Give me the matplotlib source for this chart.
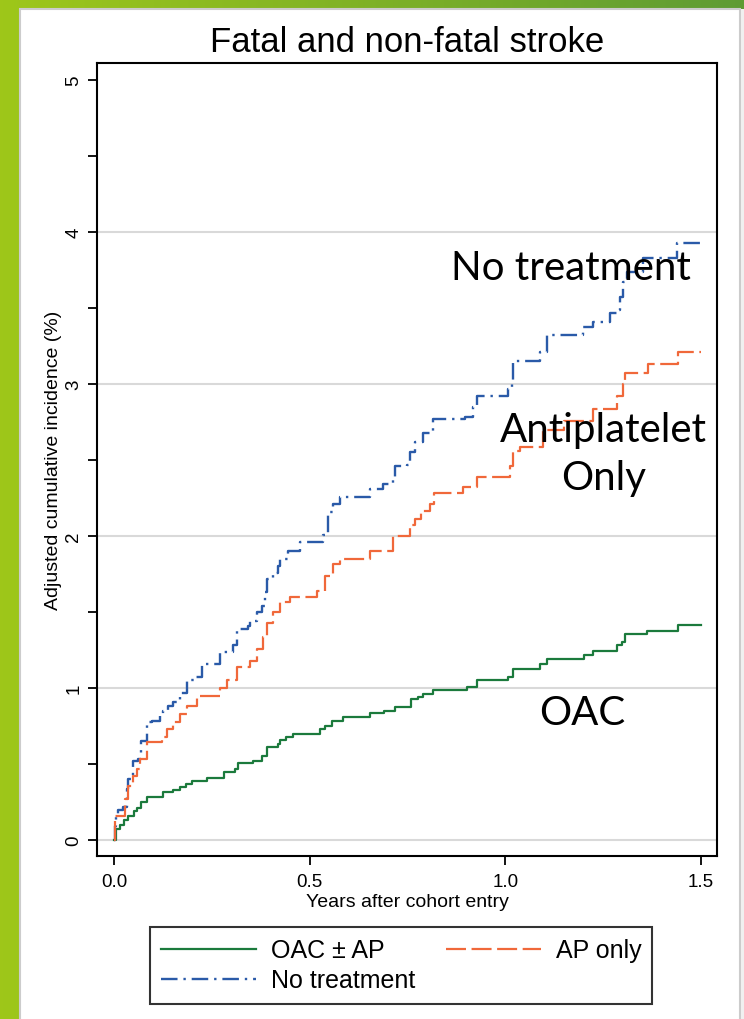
import numpy as np
import matplotlib
matplotlib.use("Agg")
import matplotlib.pyplot as plt
from matplotlib.patches import Rectangle

plt.rcParams['font.family'] = ['Liberation Sans', 'DejaVu Sans']

# Step curves (years, cumulative incidence %)
oac_t = [0, 0.006, 0.015, 0.025, 0.036, 0.05, 0.058, 0.07, 0.084, 0.126,
         0.15, 0.169, 0.185, 0.2, 0.237, 0.28, 0.31, 0.317, 0.355, 0.377,
         0.39, 0.42, 0.424, 0.44, 0.458, 0.527, 0.54, 0.557, 0.585, 0.654,
         0.69, 0.718, 0.76, 0.777, 0.79, 0.815, 0.902, 0.928, 1.007, 1.02,
         1.089, 1.106, 1.2, 1.224, 1.285, 1.298, 1.306, 1.362, 1.441, 1.5]
oac_v = [0, 0.07, 0.1, 0.13, 0.16, 0.19, 0.21, 0.25, 0.28, 0.315,
         0.33, 0.35, 0.37, 0.39, 0.41, 0.45, 0.47, 0.51, 0.52, 0.55,
         0.61, 0.63, 0.66, 0.68, 0.70, 0.73, 0.75, 0.78, 0.81, 0.835,
         0.85, 0.875, 0.93, 0.94, 0.96, 0.99, 1.01, 1.05, 1.07, 1.125,
         1.16, 1.19, 1.22, 1.245, 1.28, 1.30, 1.355, 1.375, 1.415, 1.415]

ap_t = [0, 0.003, 0.028, 0.036, 0.049, 0.058, 0.066, 0.084, 0.122, 0.135,
        0.151, 0.169, 0.186, 0.212, 0.271, 0.289, 0.314, 0.348, 0.365, 0.381,
        0.39, 0.407, 0.424, 0.45, 0.518, 0.539, 0.56, 0.578, 0.654, 0.713,
        0.756, 0.769, 0.785, 0.808, 0.818, 0.892, 0.927, 1.012, 1.02, 1.037,
        1.097, 1.15, 1.224, 1.285, 1.3, 1.306, 1.365, 1.441, 1.5]
ap_v = [0, 0.16, 0.27, 0.355, 0.42, 0.47, 0.53, 0.645, 0.68, 0.73,
        0.775, 0.83, 0.88, 0.95, 1.0, 1.05, 1.14, 1.18, 1.26, 1.335,
        1.43, 1.50, 1.565, 1.60, 1.64, 1.74, 1.815, 1.85, 1.90, 2.0,
        2.07, 2.11, 2.165, 2.21, 2.28, 2.32, 2.39, 2.46, 2.56, 2.585,
        2.70, 2.76, 2.835, 2.92, 3.0, 3.07, 3.13, 3.21, 3.21]

none_t = [0, 0.003, 0.006, 0.01, 0.023, 0.032, 0.036, 0.049, 0.061, 0.07,
          0.084, 0.096, 0.118, 0.126, 0.138, 0.151, 0.169, 0.186, 0.207, 0.225,
          0.271, 0.304, 0.314, 0.342, 0.348, 0.365, 0.377, 0.386, 0.391, 0.407,
          0.42, 0.424, 0.445, 0.475, 0.535, 0.548, 0.56, 0.578, 0.654, 0.688,
          0.713, 0.718, 0.748, 0.757, 0.769, 0.79, 0.815, 0.897, 0.918, 0.927,
          1.007, 1.017, 1.02, 1.089, 1.106, 1.199, 1.224, 1.268, 1.285, 1.293,
          1.3, 1.31, 1.352, 1.439, 1.5]
none_v = [0, 0.09, 0.16, 0.2, 0.22, 0.335, 0.40, 0.52, 0.53, 0.65,
          0.775, 0.78, 0.815, 0.85, 0.88, 0.905, 0.97, 1.05, 1.07, 1.16,
          1.24, 1.28, 1.39, 1.41, 1.44, 1.50, 1.54, 1.63, 1.72, 1.76,
          1.80, 1.85, 1.90, 1.96, 2.01, 2.16, 2.21, 2.26, 2.31, 2.34,
          2.39, 2.46, 2.47, 2.55, 2.62, 2.68, 2.77, 2.78, 2.85, 2.92,
          2.97, 3.0, 3.15, 3.21, 3.32, 3.375, 3.41, 3.47, 3.49, 3.57,
          3.67, 3.74, 3.83, 3.93, 3.93]

x_ticks = [0.0, 0.5, 1.0, 1.5]
x_labels = ["0.0", "0.5", "1.0", "1.5"]
y_ticks = [0, 1, 2, 3, 4, 5]
y_grid = [0, 1, 2, 3, 4]

green = "#1b7a3c"
orange = "#f0683a"
blue = "#2a5aa8"

fig = plt.figure(figsize=(7.44, 10.2), dpi=100)

# slide background: green strips and white panel
bg = fig.add_axes([0, 0, 1, 1])
c0 = np.array([0.62, 0.78, 0.10])
c1 = np.array([0.37, 0.61, 0.20])
grad = np.linspace(0, 1, 256)[None, :, None]
bg.imshow(c0 + (c1 - c0) * grad, aspect="auto", extent=[0, 1, 0, 1])
bg.set_xlim(0, 1)
bg.set_ylim(0, 1)
bg.axis("off")
bg.add_patch(Rectangle((20 / 744, -0.01), 720 / 744, 1 - 10 / 1020 + 0.01,
                       facecolor="white", edgecolor="#cccccc", lw=1.5))
bg.add_patch(Rectangle((741 / 744, 0), 3 / 744, 1 - 10 / 1020,
                       facecolor="#f0f0f0", edgecolor="none"))

ax = fig.add_axes([97 / 744, 1 - 857 / 1020, 620 / 744, 793 / 1020])

ax.step(oac_t, oac_v, where="post", color=green, lw=1.6, label="OAC \u00b1 AP")
ax.step(none_t, none_v, where="post", color=blue, lw=1.7,
        dashes=(7, 2.5, 1, 2.5), label="No treatment")
ax.step(ap_t, ap_v, where="post", color=orange, lw=1.6,
        dashes=(9, 2.5), label="AP only")

for g in y_grid:
    ax.axhline(g, color="#d9d9d9", lw=1.5, zorder=0)

ax.set_xlim(-0.0434, 1.541)
ax.set_ylim(-0.105, 5.112)
ax.set_xticks(x_ticks)
ax.set_xticklabels(x_labels)
ax.set_yticks(y_ticks)
ax.set_yticks(np.arange(0.5, 5, 1.0), minor=True)
ax.tick_params(axis="both", which="both", length=6.5, width=1.3, labelsize=13.5)
ax.tick_params(axis="x", pad=6)
ax.tick_params(axis="y", labelrotation=90, pad=4)
for lab in ax.get_yticklabels():
    lab.set_va("center")
for sp in ax.spines.values():
    sp.set_linewidth(1.5)

ax.set_title("Fatal and non-fatal stroke", fontsize=25, pad=9)
ax.set_xlabel("Years after cohort entry", fontsize=14, labelpad=2)
ax.set_ylabel("Adjusted cumulative incidence (%)", fontsize=14, va="center")
ax.yaxis.set_label_coords(-0.07, 0.5)

# annotations on the slide
ann = dict(fontsize=29, family=["Lato", "DejaVu Sans"], ha="center", va="baseline")
ax.text(1.168, 3.69, "No treatment", **ann)
ax.text(1.25, 2.625, "Antiplatelet", **ann)
ax.text(1.25, 2.31, "Only", **ann)
ax.text(1.196, 0.763, "OAC", **ann)

leg = ax.legend(loc="upper left", bbox_to_anchor=(150 / 744, 1 - 928 / 1020),
                bbox_transform=fig.transFigure, ncol=2, fontsize=18,
                frameon=True, fancybox=False, edgecolor="black",
                handlelength=3.8, handletextpad=0.6, columnspacing=1.2,
                labelspacing=0.25, borderpad=0.45, borderaxespad=0)
leg.get_frame().set_linewidth(1.5)

fig.savefig("out.png", dpi=100)
